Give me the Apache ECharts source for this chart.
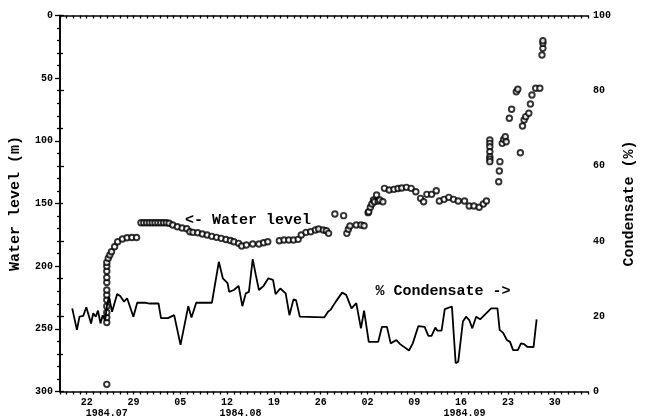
<!DOCTYPE html>
<html><head><meta charset="utf-8">
<script src="https://cdn.jsdelivr.net/npm/echarts@6/dist/echarts.min.js"></script>
<style>html,body{margin:0;padding:0;background:#fff}#c{width:645px;height:419px}</style>
</head><body><div id="c"></div>
<script>
// x values are days since 1984-07-18
const wlDay = [7.0,
  7.0,7.0,7.0,7.0,7.0,7.0,7.0,7.0,7.0,7.0,7.0,7.0,
  7.22,7.46,7.70,8.17,8.63,9.34,10.04,10.75,11.45,
  12.11,12.53,12.96,13.38,13.80,14.22,14.65,15.07,15.49,15.91,
  16.33,16.86,17.56,18.27,18.97,19.43,19.90,20.60,21.30,22.01,22.71,23.42,24.12,24.83,25.49,26.01,26.72,27.18,27.88,28.83,29.76,30.46,31.08,
  32.81,33.52,34.22,34.93,35.63,36.09,36.80,37.50,38.21,38.69,39.39,39.85,40.18,
  41.12,42.43,
  42.91,43.14,43.38,44.32,45.02,45.49,
  46.09,46.19,46.43,46.66,46.90,47.04,47.36,47.60,47.84,48.30,
  48.54,49.25,49.95,50.56,51.12,51.83,52.53,53.23,53.94,54.40,54.88,55.59,56.29,56.75,57.46,58.16,58.87,59.57,60.51,61.22,61.92,62.71,63.33,63.79,
  64.3,64.3,64.3,64.3,64.3,64.3,64.3,
  65.81,65.72,65.63,66.15,66.37,66.61,66.75,67.22,67.56,68.26,68.49,68.87,69.19,69.43,69.67,70.13,70.37,70.60,71.16,71.78,72.10,72.24,72.24,72.24];
const wlLevel = [294.3,
  245,241,237,232,227,223,219,213,209,204,200,197,
  193.7,191.1,188.5,184.5,180.5,178.3,177.3,177.1,177.1,
  165.3,165.3,165.3,165.3,165.3,165.3,165.3,165.3,165.3,165.3,
  165.8,167.2,168.5,169.6,170.1,172.5,173.0,173.3,174.3,175.1,176.2,177.0,177.8,178.7,179.5,180.5,181.8,183.9,183.1,182.3,182.3,181.3,180.5,
  179.7,179.1,179.1,179.1,178.6,175.1,173.0,172.5,171.2,170.3,171.2,171.7,173.8,
  158.4,159.7,
  173.8,170.6,168.0,167.2,167.2,167.7,
  157.3,156.5,153.0,150.4,147.2,148.6,143.2,148.0,147.2,148.6,
  137.9,139.2,138.7,138.0,137.6,137.1,137.9,140.6,145.9,148.6,142.7,142.7,139.8,148.0,146.7,145.1,146.7,148.0,148.0,152.0,152.0,153.0,150.4,148.0,
  99.3,102,104.7,108.7,112.7,114.7,116.6,
  116.6,124.1,132.6,102.0,98.8,96.7,100.7,82.0,74.8,60.8,58.9,109.5,88.2,83.4,80.7,78.0,70.6,63.4,58.1,58.1,31.5,26.2,22.2,20.1];

const condDay = [1.83,2.53,2.92,3.48,3.94,4.65,4.97,5.35,5.68,6.06,6.38,6.76,7.00,7.32,7.79,8.55,9.01,9.58,10.04,10.98,11.55,12.86,13.42,14.74,15.11,16.15,17.08,18.03,19.19,19.67,20.38,22.72,23.76,24.36,25.07,25.31,26.01,26.72,27.28,27.79,28.26,28.83,29.29,29.76,30.46,31.17,31.87,32.25,32.95,33.76,34.32,34.93,35.31,35.87,39.53,40.09,40.46,41.26,42.21,42.81,43.61,44.32,45.02,45.49,46.19,47.60,48.16,48.91,49.47,50.32,50.88,52.21,52.77,53.61,54.54,55.11,55.58,56.15,56.43,57.08,57.56,58.63,59.19,59.57,60.27,60.74,61.22,61.68,62.25,62.85,64.50,65.44,65.77,66.29,66.85,67.32,67.78,68.49,68.96,69.43,69.89,70.84,71.30];
const condPct = [22.1,16.4,19.9,20.1,22.4,18.1,20.8,19.9,21.5,18.1,20.3,19.0,22.6,25.2,21.2,25.9,25.4,23.9,24.8,19.9,23.6,23.6,23.4,23.4,19.5,19.5,20.3,12.4,22.7,19.7,23.6,23.6,34.5,30.1,28.8,26.5,27.0,28.1,22.7,26.1,26.5,35.2,31.0,27.0,28.1,30.1,29.7,25.9,27.4,26.1,20.3,24.5,24.3,19.9,19.7,21.2,21.7,23.9,26.3,25.7,22.1,23.5,16.8,21.5,13.2,13.2,17.2,17.2,12.8,13.7,12.6,10.9,12.8,17.4,17.2,14.8,14.8,17.0,16.2,16.2,21.9,22.6,7.5,7.9,18.6,19.9,19.0,16.8,19.9,19.2,22.1,22.1,16.4,15.6,13.7,13.2,11.0,11.0,12.8,12.6,11.9,11.8,19.2];

const xTickDays = [4,11,18,25,32,39,46,53,60,67,74];
const xTickLabels = ['22','29','05','12','19','26','02','09','16','23','30'];
const monthDays = [7,27,60.5];
const monthLabels = ['1984.07','1984.08','1984.09'];
const annotations = [
  {text:'<- Water level', day:18.7, value:163.2, axis:0},
  {text:'% Condensate ->', day:47.2, value:26.8, axis:1}
];

const FONT = 'Liberation Mono';
const ink = '#000';
const chart = echarts.init(document.getElementById('c'), null, {renderer:'canvas'});
const lbl = {fontFamily:FONT, fontWeight:'bold', fontSize:10, color:ink};
const axLine = {show:true, lineStyle:{color:ink, width:1.6}};

chart.setOption({
  animation:false,
  backgroundColor:'#fff',
  grid:{left:52, right:32, top:15.5, bottom:27.5, containLabel:false},
  xAxis:[
    {type:'value', position:'bottom', min:0, max:79, interval:1,
     axisLine:axLine, axisTick:{show:true, length:3, lineStyle:{color:ink, width:1.3}},
     splitLine:{show:false},
     axisLabel:Object.assign({margin:6, showMinLabel:true, showMaxLabel:true,
       formatter:v=>{const i=xTickDays.indexOf(Math.round(v)); return (i>=0 && Math.abs(v-xTickDays[i])<1e-6)?xTickLabels[i]:'';}}, lbl)},
    {type:'value', position:'top', min:0, max:79, interval:1,
     axisLine:axLine, axisTick:{show:true, inside:true, length:3, lineStyle:{color:ink, width:1.3}},
     splitLine:{show:false}, axisLabel:{show:false}},
    {type:'value', position:'bottom', min:0, max:79, interval:0.5,
     axisLine:{show:false}, axisTick:{show:false}, splitLine:{show:false},
     axisLabel:Object.assign({margin:17,
       formatter:v=>{for(let i=0;i<monthDays.length;i++){if(Math.abs(v-monthDays[i])<1e-6) return monthLabels[i];} return '';}}, lbl)}
  ],
  yAxis:[
    {type:'value', position:'left', inverse:true, min:0, max:300, interval:50,
     axisLine:axLine, axisTick:{show:true, length:5, lineStyle:{color:ink, width:1.3}},
     minorTick:{show:true, splitNumber:5, length:3, lineStyle:{color:ink, width:1.3}},
     splitLine:{show:false}, minorSplitLine:{show:false},
     axisLabel:Object.assign({margin:7}, lbl),
     name:'Water level (m)', nameLocation:'middle', nameGap:37, nameRotate:90,
     nameTextStyle:{fontFamily:FONT, fontWeight:'bold', fontSize:15, color:ink}},
    {type:'value', position:'right', min:0, max:100, interval:20,
     axisLine:axLine, axisTick:{show:true, length:4, lineStyle:{color:ink, width:1.3}},
     minorTick:{show:true, splitNumber:2, length:3, lineStyle:{color:ink, width:1.3}},
     splitLine:{show:false}, minorSplitLine:{show:false},
     axisLabel:Object.assign({margin:5}, lbl),
     name:'Condensate (%)', nameLocation:'middle', nameGap:26, nameRotate:90,
     nameTextStyle:{fontFamily:FONT, fontWeight:'bold', fontSize:15, color:ink}}
  ],
  series:[
    {type:'scatter', xAxisIndex:0, yAxisIndex:0, symbol:'circle', symbolSize:5.5,
     itemStyle:{color:'#fff', borderColor:ink, borderWidth:1.9},
     data:wlDay.map((d,i)=>[d, wlLevel[i]])},
    {type:'line', xAxisIndex:0, yAxisIndex:1, showSymbol:false, symbol:'none',
     lineStyle:{color:ink, width:1.8},
     data:condDay.map((d,i)=>[d, condPct[i]])}
  ]
});

const g = annotations.map(a=>{
  const p = chart.convertToPixel({xAxisIndex:0, yAxisIndex:a.axis}, [a.day, a.value]);
  return {type:'text', x:p[0], y:p[1],
    style:{text:a.text, fontFamily:FONT, fontWeight:'bold', fontSize:15, fill:ink, textAlign:'left', textVerticalAlign:'middle'}};
});
chart.setOption({graphic:g});
</script></body></html>
